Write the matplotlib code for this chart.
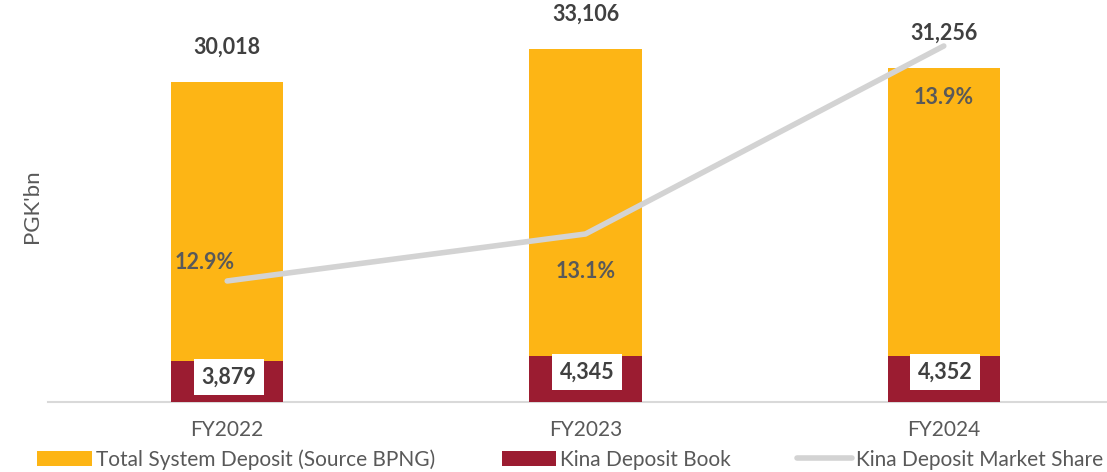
import matplotlib.pyplot as plt
import numpy as np

plt.rcParams['font.family'] = ['Lato', 'DejaVu Sans']

years = ['FY2022', 'FY2023', 'FY2024']
total_deposit = [30018, 33106, 31256]
kina_deposit = [3879, 4345, 4352]
market_share = [12.9, 13.1, 13.9]

orange = '#FDB515'
maroon = '#9B1C31'
grey = '#D3D3D3'
dark = '#404040'
mid = '#595959'

fig = plt.figure(figsize=(11.07, 4.72), dpi=100)
ax = fig.add_axes([0.0434, 0.1483, 0.971, 0.8305])
x = np.arange(len(years))

# bars overlap: Kina book drawn in front of total system
ax.bar(x, total_deposit, width=0.313, color=orange, label='Total System Deposit (Source BPNG)', zorder=2)
ax.bar(x, kina_deposit, width=0.313, color=maroon, label='Kina Deposit Book', zorder=3)

ax.set_xlim(-0.5, 2.5)
ax.set_ylim(0, 36720)
ax.set_yticks([])
ax.set_xticks(x)
ax.set_xticklabels(years, fontsize=15, color=mid)
ax.tick_params(axis='x', length=0, pad=13)
for s in ['top', 'right', 'left']:
    ax.spines[s].set_visible(False)
ax.spines['bottom'].set_color('#D9D9D9')
ax.spines['bottom'].set_linewidth(1.5)
ax.set_ylabel("PGK'bn", fontsize=16, color=mid, labelpad=4)

for xi, v in zip(x, total_deposit):
    ax.annotate(f'{v:,}', (xi, v), xytext=(0, 25), textcoords='offset points',
                ha='center', va='center', fontsize=15.5, fontweight='bold', color=dark)
for xi, v in zip(x, kina_deposit):
    ax.annotate(f'{v:,}', (xi, v), xytext=(1, -12), textcoords='offset points',
                ha='center', va='center', fontsize=15.5, fontweight='bold', color=dark, zorder=5,
                bbox=dict(boxstyle='square,pad=0.35', fc='white', ec='none'))

ax2 = ax.twinx()
ax2.plot(x, market_share, color=grey, lw=4, solid_capstyle='round',
         label='Kina Deposit Market Share', zorder=4)
ax2.set_ylim(12.385, 12.385 + 392 / 235)
ax2.axis('off')

offsets = [(-16, 13), (0, -27), (0, -37)]
for xi, v, off in zip(x, market_share, offsets):
    ax2.annotate(f'{v:.1f}%', (xi, v), xytext=off, textcoords='offset points',
                 ha='center', va='center', fontsize=15.5, fontweight='bold', color=mid)

h1, l1 = ax.get_legend_handles_labels()
h2, l2 = ax2.get_legend_handles_labels()
fig.legend(h1 + h2, l1 + l2, loc='lower center', bbox_to_anchor=(0.515, -0.035), ncol=3,
           frameon=False, fontsize=15, labelcolor=mid, handlelength=2.6, handleheight=0.8,
           columnspacing=3.2, handletextpad=0.2)

fig.savefig('out.png', dpi=100)
